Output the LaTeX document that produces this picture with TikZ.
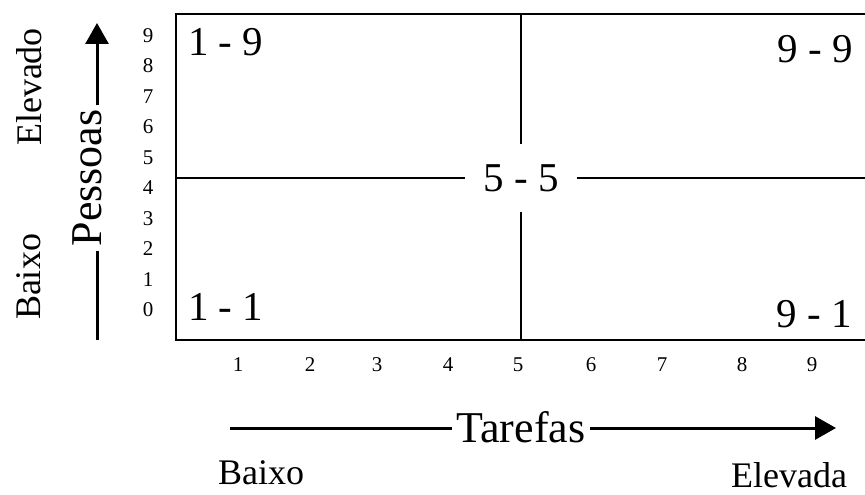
\documentclass[tikz,border=0pt]{standalone}
\usepackage{fontspec}
\setmainfont{Liberation Serif}
\usepackage{tikz}
\usetikzlibrary{arrows.meta,positioning,calc}

\tikzset{
  eixo/.style={line width=3pt,-{Triangle[length=21pt,width=23pt]}},
  haste/.style={line width=3pt},
  grade/.style={line width=1.4pt},
  canto/.style={font=\fontsize{41}{41}\selectfont,inner sep=0pt},
  num/.style={font=\fontsize{21}{21}\selectfont,inner sep=0pt},
  rotulo/.style={font=\fontsize{44}{44}\selectfont,inner sep=4pt},
  nivel/.style={font=\fontsize{36}{36}\selectfont,inner sep=0pt}
}

\begin{document}
\begin{tikzpicture}[x=1pt,y=-1pt]
  \useasboundingbox (0,0) rectangle (865,495);
  \coordinate (ge) at (176,178); % グリッド左端の中央
  \coordinate (gd) at (870,178); % グリッド右端の中央
  \coordinate (gs) at (521,14); % グリッド上端の中央
  \coordinate (gi) at (521,340); % グリッド下端の中央
  \draw[grade] (870,14) -- (176,14) -- (176,340) -- (870,340); % グリッドの枠（右側は開いている）
  \node[canto,minimum width=111pt,minimum height=67pt] (c55) at (521,178) {5 - 5}; % 中央のスタイル
  \draw[grade] (ge) -- (c55.west); % 中央の横線（左）
  \draw[grade] (c55.east) -- (gd); % 中央の横線（右）
  \draw[grade] (gs) -- (c55.north); % 中央の縦線（上）
  \draw[grade] (c55.south) -- (gi); % 中央の縦線（下）
  \node[canto,anchor=base west] (c19) at (188,56) {1 - 9}; % 左上の隅
  \node[canto,anchor=base east] (c99) at (853,63) {9 - 9}; % 右上の隅
  \node[canto,anchor=base west] (c11) at (188,320) {1 - 1}; % 左下の隅
  \node[canto,anchor=base east] (c91) at (852,327) {9 - 1}; % 右下の隅
  \foreach \k in {0,...,9}
    \node[num] (ny\k) at (148,{310-30.5*\k}) {\k}; % 縦軸の目盛り
  \foreach \k/\xx in {1/238,2/310,3/377,4/448,5/518,6/591,7/662,8/742,9/812}
    \node[num] (nx\k) at (\xx,365) {\k}; % 横軸の目盛り
  \node[rotulo,rotate=90] (pessoas) at (87,178) {Pessoas}; % 縦軸の名前
  \coordinate (pb) at (97,340); % 縦の矢印の始点
  \coordinate (pt) at (97,23); % 縦の矢印の先端
  \draw[haste] (pb) -- (pessoas.west -| pb); % 縦の矢印（下の部分）
  \draw[eixo] (pessoas.east -| pt) -- (pt); % 縦の矢印（上の部分）
  \node[rotulo] (tarefas) at (521,427) {Tarefas}; % 横軸の名前
  \coordinate (tl) at (230,428); % 横の矢印の始点
  \coordinate (tr) at (836,428); % 横の矢印の先端
  \draw[haste] (tl) -- (tarefas.west |- tl); % 横の矢印（左の部分）
  \draw[eixo] (tarefas.east |- tr) -- (tr); % 横の矢印（右の部分）
  \node[nivel,rotate=90] (elevado) at (29,87) {Elevado}; % 縦軸の上端
  \node[nivel,rotate=90] (baixoy) at (29,277) {Baixo}; % 縦軸の下端
  \node[nivel] (baixox) at (261,473) {Baixo}; % 横軸の左端
  \node[nivel] (elevada) at (789,475) {Elevada}; % 横軸の右端
\end{tikzpicture}
\end{document}
